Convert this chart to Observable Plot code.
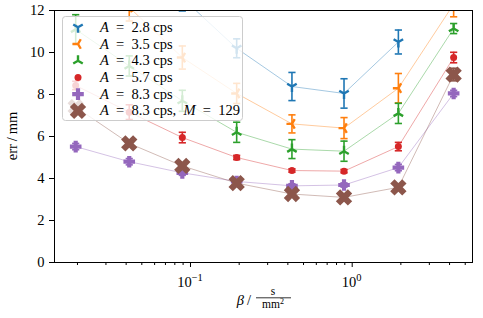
<!DOCTYPE html>
<html><head><meta charset="utf-8">
<script src="https://cdn.jsdelivr.net/npm/d3@7"></script>
<script src="https://cdn.jsdelivr.net/npm/@observablehq/plot@0.6"></script>
<style>
body{margin:0;background:#fff;}
#chart{position:relative;width:483px;height:318px;}
#legend{position:absolute;left:0;top:0;pointer-events:none;}
</style></head><body><div id="chart"></div>
<script>
// ---- data ----
const betas = [0.0195, 0.0418, 0.089, 0.193, 0.424, 0.89, 1.93, 4.24];
const seriesA = ["2.8", "3.5", "4.3", "5.7", "8.3", "8.3"];
const seriesM = [null, null, null, null, null, "129"];
const errBlue   = [15.0, 13.8, 12.6, 10.2, 8.38, 8.05, 10.5, null];
const sdBlue    = [0.6, 0.6, 0.62, 0.45, 0.67, 0.7, 0.57, null];
const errOrange = [14.0, 12.15, 9.76, 8.05, 6.6, 6.4, 8.3, 12.3];
const sdOrange  = [0.6, 0.65, 0.55, 0.48, 0.43, 0.5, 0.7, 0.6];
const errGreen  = [11.1, 9.36, 7.7, 6.2, 5.4, 5.3, 7.1, 11.14];
const sdGreen   = [0.7, 0.48, 0.5, 0.48, 0.45, 0.48, 0.48, 0.24];
const errRed    = [8.43, 7.16, 5.95, 5.0, 4.38, 4.35, 5.52, 9.76];
const sdRed     = [0.2, 0.35, 0.25, 0.1, 0.08, 0.08, 0.2, 0.25];
const errPurple = [5.52, 4.8, 4.27, 3.86, 3.65, 3.69, 4.52, 8.05];
const sdPurple  = [0.15, 0.15, 0.12, 0.1, 0.1, 0.1, 0.15, 0.15];
const errBrown  = [7.4, 5.67, 4.6, 3.78, 3.26, 3.1, 3.58, 8.95];
const sdBrown   = [0.1, 0.1, 0.1, 0.1, 0.1, 0.1, 0.1, 0.3];
const colors = ["#1f77b4", "#ff7f0e", "#2ca02c", "#d62728", "#9467bd", "#8c564b"];
const yTicks = [0, 2, 4, 6, 8, 10, 12];
const xMajor = [0.1, 1];
const xMajorLabels = [["10", "−1"], ["10", "0"]];
const xMinor = [0.02,0.03,0.04,0.05,0.06,0.07,0.08,0.09,0.2,0.3,0.4,0.5,0.6,0.7,0.8,0.9,2,3,4,5];

// ---- symbols ----
const D = Math.PI / 180;
function tri(angles) {
  return {draw(ctx, size) {
    const r = Math.sqrt(size / Math.PI);
    for (const a of angles) { ctx.moveTo(0, 0); ctx.lineTo(r * Math.cos(a * D), r * Math.sin(a * D)); }
  }};
}
function crossShape(rot) {
  return {draw(ctx, size) {
    const r = Math.sqrt(size / Math.PI), w = r * 0.36;
    const pts = [[w,-r],[w,-w],[r,-w],[r,w],[w,w],[w,r],[-w,r],[-w,w],[-r,w],[-r,-w],[-w,-w],[-w,-r]];
    const c = Math.cos(rot * D), s = Math.sin(rot * D);
    pts.forEach(([x, y], i) => {
      const X = x * c - y * s, Y = x * s + y * c;
      i ? ctx.lineTo(X, Y) : ctx.moveTo(X, Y);
    });
    ctx.closePath();
  }};
}
const capSym = {draw(ctx, size) { const r = Math.sqrt(size / Math.PI); ctx.moveTo(-r, 0); ctx.lineTo(r, 0); }};
const symTriDown = tri([90, 210, 330]);
const symTriLeft = tri([180, 300, 60]);
const symTriUp = tri([270, 150, 30]);
const symPlus = crossShape(0);
const symX = crossShape(45);

const series = [
  {v: errBlue, e: sdBlue, sym: symTriDown, r: 5.5, kind: "stroke"},
  {v: errOrange, e: sdOrange, sym: symTriLeft, r: 5.5, kind: "stroke"},
  {v: errGreen, e: sdGreen, sym: symTriUp, r: 5.5, kind: "stroke"},
  {v: errRed, e: sdRed, sym: d3.symbolCircle, r: 3.5, kind: "fill"},
  {v: errPurple, e: sdPurple, sym: symPlus, r: 5.8, kind: "fill"},
  {v: errBrown, e: sdBrown, sym: symX, r: 8.5, kind: "fill"}
];

const marks = [];
series.forEach((s, i) => {
  const col = colors[i];
  const rows = betas.map((b, j) => ({x: b, y: s.v[j], e: s.e[j]})).filter(d => d.y != null);
  marks.push(Plot.line(rows, {x: "x", y: "y", stroke: col, strokeOpacity: 0.45, strokeWidth: 0.9, clip: true}));
  marks.push(Plot.ruleX(rows, {x: "x", y1: d => d.y - d.e, y2: d => d.y + d.e, stroke: col, strokeWidth: 1.6, clip: true}));
  marks.push(Plot.dot(rows, {x: "x", y: d => d.y - d.e, symbol: capSym, r: 3.6, stroke: col, strokeWidth: 1.6, clip: true}));
  marks.push(Plot.dot(rows, {x: "x", y: d => d.y + d.e, symbol: capSym, r: 3.6, stroke: col, strokeWidth: 1.6, clip: true}));
  if (s.kind === "stroke")
    marks.push(Plot.dot(rows, {x: "x", y: "y", symbol: s.sym, r: s.r, stroke: col, strokeWidth: 2.4, fill: "none", clip: true}));
  else
    marks.push(Plot.dot(rows, {x: "x", y: "y", symbol: s.sym, r: s.r, fill: col, stroke: "none", clip: true}));
});

const FONT = "'Liberation Serif', 'DejaVu Serif', serif";
const plot = Plot.plot({
  width: 483, height: 318,
  marginLeft: 54, marginRight: 11, marginTop: 10, marginBottom: 56,
  style: {fontFamily: FONT, fontSize: "14px", color: "black", background: "white"},
  x: {type: "log", domain: [0.01442, 5.546]},
  y: {domain: [0, 12]},
  marks: [
    ...marks,
    Plot.axisY({ticks: yTicks, tickSize: 5, tickPadding: 5, label: null, fontSize: 14.5}),
    Plot.axisX({ticks: xMajor, tickSize: 5, tickFormat: () => "", label: null}),
    Plot.axisX({ticks: xMinor, tickSize: 3, tickFormat: () => "", label: null}),
    Plot.frame({stroke: "black", strokeWidth: 1})
  ]
});
document.getElementById("chart").appendChild(plot);

const svg = d3.select(plot);
const xs = plot.scale("x");
// x tick labels with superscripts
xMajor.forEach((v, i) => {
  const t = svg.append("text").attr("x", xs.apply(v)).attr("y", 287)
    .attr("text-anchor", "middle").attr("font-family", FONT).attr("font-size", 14.5).attr("fill", "black");
  t.append("tspan").text(xMajorLabels[i][0]);
  t.append("tspan").attr("dy", -6).attr("font-size", 10.5).text(xMajorLabels[i][1]);
});
// x axis label: beta / (s / mm^2)
const xl = svg.append("g").attr("font-family", FONT).attr("fill", "black");
xl.append("text").attr("x", 251).attr("y", 305).attr("text-anchor", "end").attr("font-size", 14.5)
  .html('<tspan font-style="italic">β</tspan>\u2009/');
xl.append("text").attr("x", 273).attr("y", 295).attr("text-anchor", "middle").attr("font-size", 11.5).text("s");
xl.append("line").attr("x1", 256).attr("x2", 291).attr("y1", 297.8).attr("y2", 297.8).attr("stroke", "black").attr("stroke-width", 0.8);
xl.append("text").attr("x", 273).attr("y", 307.5).attr("text-anchor", "middle").attr("font-size", 11.5)
  .html('mm<tspan dy="-4" font-size="8">2</tspan>');
// y axis label
svg.append("text").attr("transform", "translate(17,136) rotate(-90)").attr("text-anchor", "middle")
  .attr("font-family", FONT).attr("font-size", 14.5).attr("fill", "black").text("err\u2009/\u2009mm");

// legend as overlay svg
const lg = d3.select("#chart").append("svg").attr("id", "legend").attr("width", 483).attr("height", 318);
lg.append("rect").attr("x", 62.5).attr("y", 16.5).attr("width", 180).attr("height", 104).attr("rx", 3)
  .style("fill", "white").style("fill-opacity", 0.8).style("stroke", "#cccccc").style("stroke-width", 1);
series.forEach((s, i) => {
  const y = 27.3 + i * 16.7;
  const p = d3.path();
  const r = s.r;
  s.sym.draw(p, r * r * Math.PI);
  const path = lg.append("path").attr("d", p.toString()).attr("transform", `translate(78,${y})`);
  if (s.kind === "stroke") path.style("stroke", colors[i]).style("stroke-width", 2.4).style("fill", "none");
  else path.style("fill", colors[i]);
  let html = '<tspan font-style="italic">A</tspan>\u2002=\u2002' + seriesA[i] + '\u2005cps';
  if (seriesM[i]) html += ',\u2002<tspan font-style="italic">M</tspan>\u2002=\u2002' + seriesM[i];
  lg.append("text").attr("x", 100).attr("y", y + 4.5).attr("text-anchor", "start")
    .attr("font-family", FONT).attr("font-size", 14.5).attr("fill", "black").html(html);
});
</script>
</body></html>
